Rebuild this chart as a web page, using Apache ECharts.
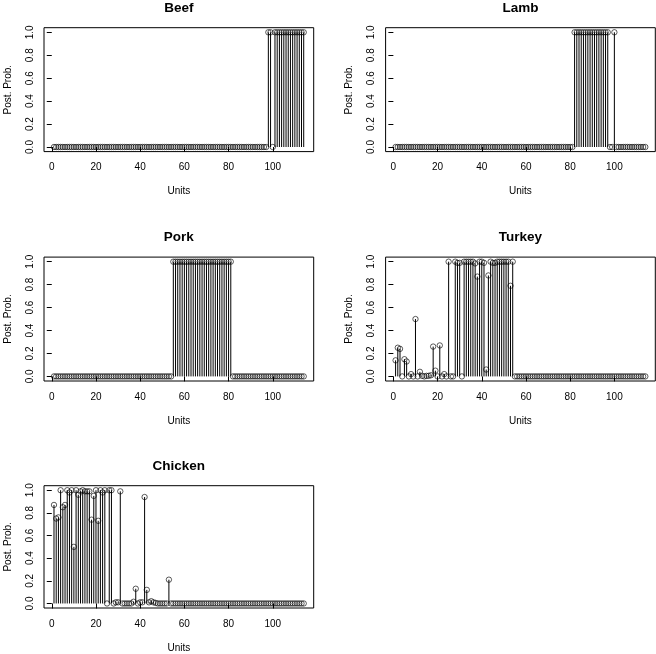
<!DOCTYPE html>
<html>
<head>
<meta charset="utf-8">
<script src="https://cdn.jsdelivr.net/npm/echarts@6/dist/echarts.min.js"></script>
<style>
html,body{margin:0;padding:0;background:#fff;}
#chart{width:656px;height:654px;}
</style>
</head>
<body>
<div id="chart"></div>
<script>
// ---- Data ----
const units = [1,2,3,4,5,6,7,8,9,10,11,12,13,14,15,16,17,18,19,20,21,22,23,24,25,26,27,28,29,30,
  31,32,33,34,35,36,37,38,39,40,41,42,43,44,45,46,47,48,49,50,51,52,53,54,55,56,57,58,59,60,
  61,62,63,64,65,66,67,68,69,70,71,72,73,74,75,76,77,78,79,80,81,82,83,84,85,86,87,88,89,90,
  91,92,93,94,95,96,97,98,99,100,101,102,103,104,105,106,107,108,109,110,111,112,113,114];

const beef = [0,0,0,0,0,0,0,0,0,0, 0,0,0,0,0,0,0,0,0,0, 0,0,0,0,0,0,0,0,0,0,
  0,0,0,0,0,0,0,0,0,0, 0,0,0,0,0,0,0,0,0,0, 0,0,0,0,0,0,0,0,0,0,
  0,0,0,0,0,0,0,0,0,0, 0,0,0,0,0,0,0,0,0,0, 0,0,0,0,0,0,0,0,0,0,
  0,0,0,0,0,0,0,1,1,0, 1,1,1,1,1,1,1,1,1,1, 1,1,1,1];

const lamb = [0,0,0,0,0,0,0,0,0,0, 0,0,0,0,0,0,0,0,0,0, 0,0,0,0,0,0,0,0,0,0,
  0,0,0,0,0,0,0,0,0,0, 0,0,0,0,0,0,0,0,0,0, 0,0,0,0,0,0,0,0,0,0,
  0,0,0,0,0,0,0,0,0,0, 0,0,0,0,0,0,0,0,0,0, 0,1,1,1,1,1,1,1,1,1,
  1,1,1,1,1,1,1,0,0,1, 0,0,0,0,0,0,0,0,0,0, 0,0,0,0];

const pork = [0,0,0,0,0,0,0,0,0,0, 0,0,0,0,0,0,0,0,0,0, 0,0,0,0,0,0,0,0,0,0,
  0,0,0,0,0,0,0,0,0,0, 0,0,0,0,0,0,0,0,0,0, 0,0,0,0,1,1,1,1,1,1,
  1,1,1,1,1,1,1,1,1,1, 1,1,1,1,1,1,1,1,1,1, 1,0,0,0,0,0,0,0,0,0,
  0,0,0,0,0,0,0,0,0,0, 0,0,0,0,0,0,0,0,0,0, 0,0,0,0];

const turkey = [0.14,0.25,0.24,0,0.15,0.13,0,0.02,0,0.5, 0,0.04,0.005,0,0.005,0.005,0.01,0.26,0.05,0,
  0.27,0,0.02,0,1,0,0,1,0.99,0.99, 0,1,1,1,1,1,0.985,0.87,1,1,
  0.99,0.06,0.88,1,0.99,0.99,1,1,1,1, 1,1,0.79,1,0,0,0,0,0,0,
  0,0,0,0,0,0,0,0,0,0, 0,0,0,0,0,0,0,0,0,0, 0,0,0,0,0,0,0,0,0,0,
  0,0,0,0,0,0,0,0,0,0, 0,0,0,0,0,0,0,0,0,0, 0,0,0,0];

const chicken = [0.87,0.75,0.76,1,0.85,0.87,1,0.98,1,0.5, 1,0.96,0.99,1,0.99,0.99,0.99,0.74,0.95,1,
  0.73,1,0.98,1,0,1,1,0,0.01,0.01, 0.99,0,0,0,0,0,0.015,0.13,0,0.01,
  0.01,0.94,0.12,0.01,0.02,0.01,0.005,0,0,0, 0,0,0.21,0,0,0,0,0,0,0,
  0,0,0,0,0,0,0,0,0,0, 0,0,0,0,0,0,0,0,0,0, 0,0,0,0,0,0,0,0,0,0,
  0,0,0,0,0,0,0,0,0,0, 0,0,0,0,0,0,0,0,0,0, 0,0,0,0];

const panelNames = ['Beef','Lamb','Pork','Turkey','Chicken'];
const panelValues = [beef, lamb, pork, turkey, chicken];
const xTicks = [0,20,40,60,80,100];
const yTicks = [0,0.2,0.4,0.6,0.8,1.0];
const xLabel = 'Units';
const yLabel = 'Post. Prob.';

// ---- Layout ----
const FONT = "'Liberation Sans', Arial, Helvetica, sans-serif";
const colLeft = [44, 385.6];
const rowTop = [27.7, 257.1, 485.7];
const plotW = 269.7, plotH = 123.9;
const pos = [[0,0],[1,0],[0,1],[1,1],[0,2]];

const grids = [], xAxes = [], yAxes = [], series = [], graphics = [];
pos.forEach(function(p, i){
  const left = colLeft[p[0]], top = rowTop[p[1]];
  grids.push({left:left, top:top, width:plotW, height:plotH, show:true,
    borderColor:'#000', borderWidth:1, backgroundColor:'transparent', containLabel:false});
  xAxes.push({type:'value', gridIndex:i, min:-3.52, max:118.52,
    name:xLabel, nameLocation:'middle', nameGap:35,
    nameTextStyle:{color:'#000', fontSize:10, fontFamily:FONT},
    axisLine:{show:false}, splitLine:{show:false},
    axisTick:{show:true, inside:false, length:5, lineStyle:{color:'#000', width:1}, customValues:xTicks},
    axisLabel:{show:true, margin:11, color:'#000', fontSize:10, fontFamily:FONT, customValues:xTicks,
      formatter:function(v){return String(v);}}
  });
  yAxes.push({type:'value', gridIndex:i, min:-0.04, max:1.04,
    name:yLabel, nameLocation:'middle', nameGap:31, nameRotate:90,
    nameTextStyle:{color:'#000', fontSize:10, fontFamily:FONT},
    axisLine:{show:false}, splitLine:{show:false},
    axisTick:{show:true, inside:false, length:5, lineStyle:{color:'#000', width:1}, customValues:yTicks},
    axisLabel:{show:true, margin:9, rotate:90, color:'#000', fontSize:10, fontFamily:FONT, customValues:yTicks,
      formatter:function(v){return Number(v).toFixed(1);}}
  });
  const vals = panelValues[i];
  const data = units.map(function(u, k){ return [u, vals[k]]; });
  series.push({type:'custom', xAxisIndex:i, yAxisIndex:i, data:data, silent:true,
    renderItem:function(params, api){
      const x = api.value(0), y = api.value(1);
      const p0 = api.coord([x, 0]), p1 = api.coord([x, y]);
      return {type:'line', shape:{x1:p0[0], y1:p0[1], x2:p1[0], y2:p1[1]},
        style:{stroke:'#000', lineWidth:1}};
    }, z:2});
  series.push({type:'scatter', xAxisIndex:i, yAxisIndex:i, data:data, symbol:'circle', symbolSize:5.4,
    itemStyle:{color:'rgba(0,0,0,0)', borderColor:'#000', borderWidth:0.8}, silent:true, z:3});
  graphics.push({type:'text', x:left + plotW/2, y:top - 19.5,
    style:{text:panelNames[i], font:"bold 13.5px " + FONT, fill:'#000', align:'center', verticalAlign:'middle'}});
});

const chart = echarts.init(document.getElementById('chart'), null, {renderer:'canvas'});
chart.setOption({
  animation:false,
  backgroundColor:'#fff',
  grid:grids, xAxis:xAxes, yAxis:yAxes, series:series, graphic:graphics
});
</script>
</body>
</html>
